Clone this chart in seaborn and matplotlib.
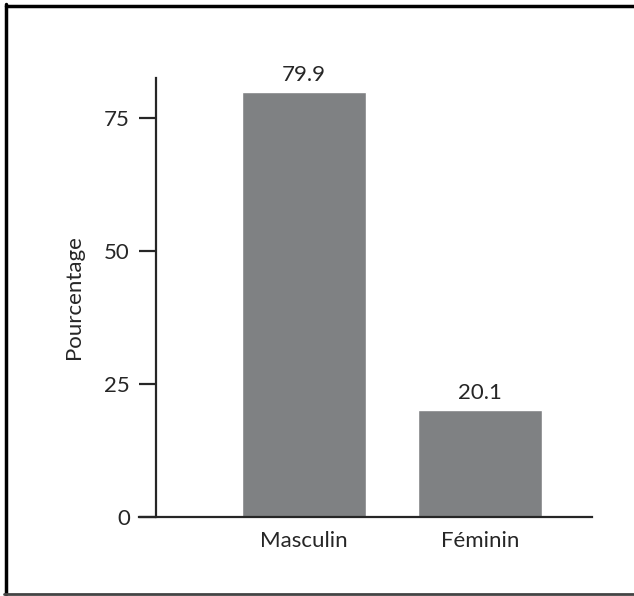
import matplotlib
matplotlib.use("Agg")
import matplotlib.pyplot as plt
from matplotlib.lines import Line2D
import seaborn as sns
import pandas as pd

# ─── DATA ─────────────────────────────────────────────────
categories = ["Masculin", "Féminin"]
percentages = [79.9, 20.1]
y_ticks = [0, 25, 50, 75]

BAR_COLOR = "#7f8183"
FS = 16

sns.set_style("ticks")
plt.rcParams['font.family'] = ['Lato', 'DejaVu Sans']

df = pd.DataFrame({"sexe": categories, "pct": percentages})

fig = plt.figure(figsize=(6.34, 5.96), dpi=100)
ax = fig.add_axes([139 / 634, 79 / 596, 453 / 634, 439 / 596])

sns.barplot(data=df, x="sexe", y="pct", color=BAR_COLOR, width=0.7,
            saturation=1, ax=ax)

ax.set_xlim(-0.9375, 1.636)
ax.set_ylim(0, 82.5)
ax.set_yticks(y_ticks)

# bar labels
for c in ax.containers:
    ax.bar_label(c, fmt="%.1f", padding=5, fontsize=FS)

ax.set_xlabel("")
ax.set_ylabel("Pourcentage", fontsize=FS, labelpad=14)

sns.despine(ax=ax)
ax.spines['left'].set_position(('data', -0.84))
ax.spines['left'].set_linewidth(1.6)
ax.spines['bottom'].set_linewidth(1.6)
ax.tick_params(axis='y', length=12, width=1.6, labelsize=FS, pad=7)
ax.tick_params(axis='x', length=0, labelsize=FS, pad=10)

# frame around the figure (left, top, bottom)
fig.add_artist(Line2D([5.5 / 634, 1.0], [1 - 5.5 / 596, 1 - 5.5 / 596],
                      transform=fig.transFigure, color="black", lw=2.5))
fig.add_artist(Line2D([5.5 / 634, 5.5 / 634], [2 / 596, 1 - 4 / 596],
                      transform=fig.transFigure, color="black", lw=2.5))
fig.add_artist(Line2D([4 / 634, 1.0], [2.5 / 596, 2.5 / 596],
                      transform=fig.transFigure, color="#444444", lw=2))

fig.savefig("out.png", dpi=100)
plt.close(fig)
